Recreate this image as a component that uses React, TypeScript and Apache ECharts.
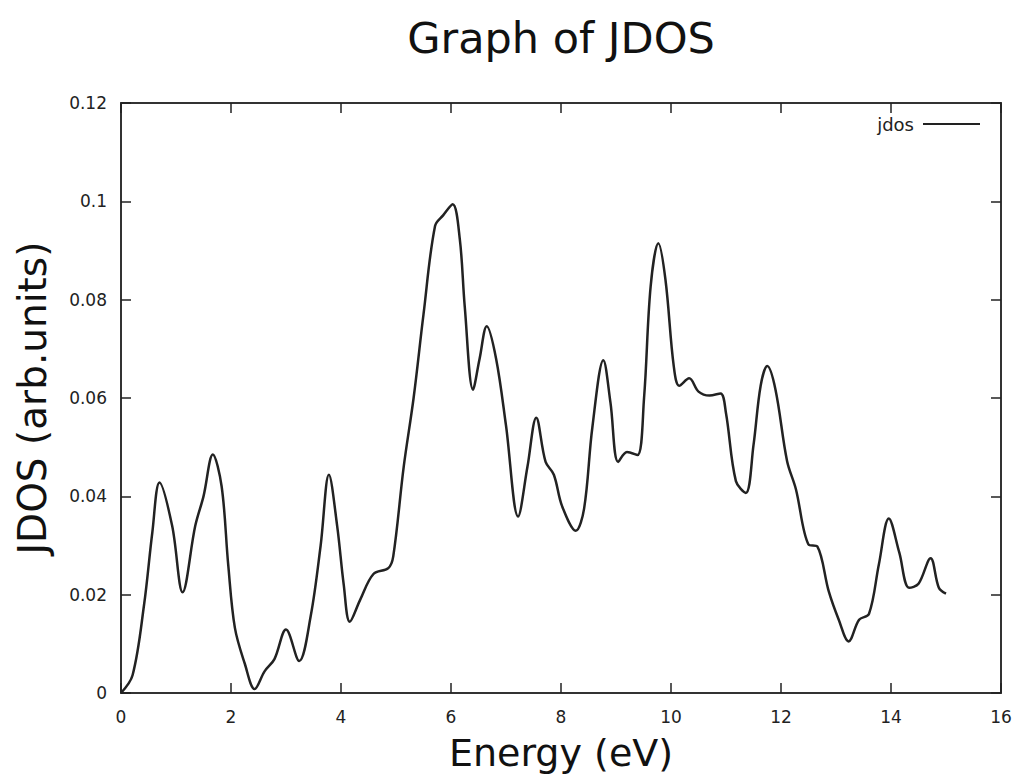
import React, { useEffect, useRef } from "react";
import * as echarts from "echarts";

// Photon energy (eV) sample points along the JDOS curve
const energy = [
  0, 0.21, 0.42, 0.57, 0.7, 0.93, 1.12, 1.35, 1.5, 1.67, 1.83, 1.95, 2.07, 2.25, 2.43,
  2.61, 2.79, 3.0, 3.24, 3.45, 3.63, 3.78, 3.93, 4.05, 4.16, 4.35, 4.59, 4.86, 4.95,
  5.14, 5.32, 5.5, 5.71, 5.86, 6.03, 6.16, 6.25, 6.4, 6.52, 6.65, 6.82, 7.0, 7.22,
  7.39, 7.55, 7.72, 7.87, 8.02, 8.27, 8.42, 8.57, 8.77, 8.9, 9.04, 9.2, 9.39, 9.51,
  9.63, 9.77, 9.9, 10.05, 10.15, 10.33, 10.5, 10.7, 10.9, 11.0, 11.18, 11.36, 11.5,
  11.63, 11.75, 11.9, 12.11, 12.27, 12.5, 12.66, 12.87, 13.05, 13.23, 13.42, 13.6,
  13.78, 13.96, 14.15, 14.33, 14.5, 14.72, 14.87, 15.0,
];

// Joint density of states (arb. units) at each energy
const jdos = [
  0, 0.0036, 0.018, 0.0327, 0.0428, 0.034, 0.0205, 0.034, 0.04, 0.0485, 0.042, 0.026,
  0.0133, 0.006, 0.0008, 0.0044, 0.0069, 0.0129, 0.0065, 0.0157, 0.03, 0.0444, 0.034,
  0.022, 0.0145, 0.019, 0.0242, 0.0254, 0.0278, 0.046, 0.06, 0.077, 0.095, 0.0972,
  0.0994, 0.0923, 0.0786, 0.0617, 0.068, 0.0746, 0.068, 0.0544, 0.0359, 0.046, 0.056,
  0.047, 0.0444, 0.038, 0.033, 0.0375, 0.054, 0.0677, 0.059, 0.047, 0.049, 0.0484,
  0.06, 0.0827, 0.0915, 0.084, 0.0665, 0.0625, 0.064, 0.0613, 0.0605, 0.0609, 0.0569,
  0.0431, 0.0407, 0.0504, 0.0625, 0.0665, 0.0617, 0.0472, 0.0415, 0.0302, 0.0298,
  0.0206, 0.0149, 0.0105, 0.0149, 0.0161, 0.0262, 0.0355, 0.0286, 0.0214, 0.0222,
  0.0274, 0.0214, 0.0202,
];

const FONT = "DejaVu Sans";
const INK = "#222";

export default function App() {
  const ref = useRef<HTMLDivElement>(null);

  useEffect(() => {
    if (!ref.current) return;
    const chart = echarts.init(ref.current, undefined, { renderer: "svg" });

    const tickStyle = { inside: true, length: 10, lineStyle: { color: INK, width: 1.5 } };
    const lineStyle = { color: "#333", width: 2 };
    const frameAxis = { onZero: false, show: true, lineStyle };

    chart.setOption({
      animation: false,
      backgroundColor: "#fff",
      title: {
        text: "Graph of JDOS",
        left: 556,
        top: 11,
        textAlign: "center",
        textStyle: { fontFamily: FONT, fontSize: 43, fontWeight: "normal", color: "#111" },
      },
      legend: {
        data: [{ name: "jdos", icon: "rect" }],
        right: 42,
        top: 110,
        align: "right",
        itemWidth: 57,
        itemHeight: 2,
        itemStyle: { color: "#222" },
        textStyle: { fontFamily: FONT, fontSize: 18, color: INK, padding: [0, 4, 0, 0] },
      },
      grid: { left: 121, right: 26, top: 103, bottom: 81, outerBoundsMode: "none", containLabel: false },
      xAxis: [
        {
          type: "value",
          min: 0,
          max: 16,
          interval: 2,
          name: "Energy (eV)",
          nameLocation: "middle",
          nameGap: 41,
          nameTextStyle: { fontFamily: FONT, fontSize: 38, color: "#111" },
          axisLine: frameAxis,
          axisTick: tickStyle,
          axisLabel: { fontFamily: FONT, fontSize: 17, color: INK, margin: 15 },
          splitLine: { show: false },
        },
        {
          type: "value",
          position: "top",
          min: 0,
          max: 16,
          interval: 2,
          axisLine: frameAxis,
          axisTick: tickStyle,
          axisLabel: { show: false },
          splitLine: { show: false },
        },
      ],
      yAxis: [
        {
          type: "value",
          min: 0,
          max: 0.12,
          interval: 0.02,
          name: "JDOS (arb.units)",
          nameLocation: "middle",
          nameGap: 69,
          nameTextStyle: { fontFamily: FONT, fontSize: 39, color: "#111" },
          axisLine: frameAxis,
          axisTick: tickStyle,
          axisLabel: { fontFamily: FONT, fontSize: 17, color: INK, margin: 14 },
          splitLine: { show: false },
        },
        {
          type: "value",
          position: "right",
          min: 0,
          max: 0.12,
          interval: 0.02,
          axisLine: frameAxis,
          axisTick: tickStyle,
          axisLabel: { show: false },
          splitLine: { show: false },
        },
      ],
      series: [
        {
          name: "jdos",
          type: "line",
          xAxisIndex: 0,
          yAxisIndex: 0,
          data: energy.map((e, i) => [e, jdos[i]]),
          smooth: 0.35,
          symbol: "none",
          lineStyle: { color: "#222", width: 2.5 },
          itemStyle: { color: "#222" },
        },
      ],
    });

    return () => chart.dispose();
  }, []);

  return (
    <div
      ref={ref}
      style={{ position: "fixed", left: 0, top: 0, width: 1027, height: 774, background: "#fff" }}
    />
  );
}
